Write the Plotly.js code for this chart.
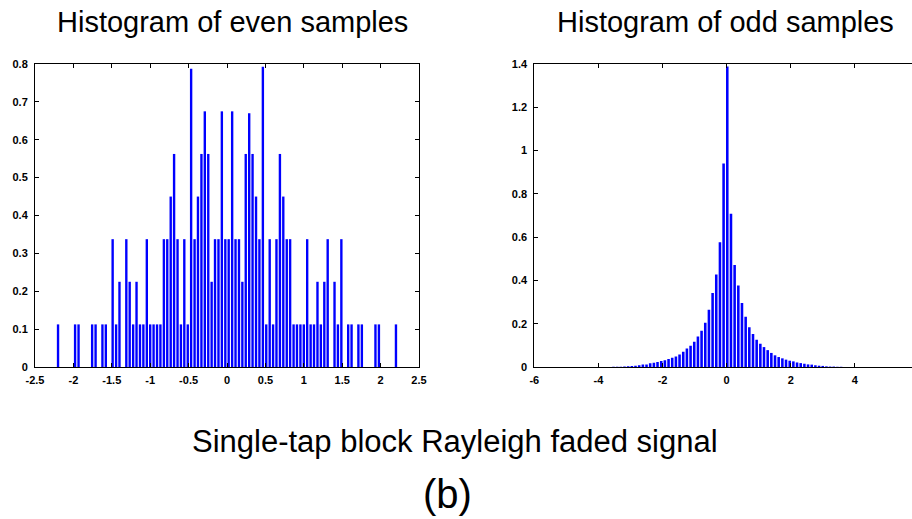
<!DOCTYPE html>
<html>
<head>
<meta charset="utf-8">
<script src="https://cdn.plot.ly/plotly-3.0.1.min.js"></script>
<style>
html, body { margin: 0; padding: 0; background: #fff; overflow: hidden; }
#wrap { width: 912px; height: 519px; overflow: hidden; position: relative; }
#plot { width: 920px; height: 519px; }
</style>
</head>
<body>
<div id="wrap"><div id="plot"></div></div>
<script>
// ---- Even samples histogram (bin centres and heights) ----
const evenX = [-2.200, -1.978, -1.933, -1.756, -1.711, -1.622, -1.578, -1.489, -1.444, -1.400,
  -1.311, -1.267, -1.222, -1.178, -1.133, -1.089, -1.044, -1.000, -0.956, -0.911,
  -0.867, -0.822, -0.778, -0.733, -0.689, -0.644, -0.600, -0.556, -0.511, -0.467,
  -0.422, -0.378, -0.333, -0.289, -0.244, -0.200, -0.156, -0.111, -0.067, -0.022,
  0.022, 0.067, 0.111, 0.156, 0.200, 0.244, 0.289, 0.333, 0.378, 0.422,
  0.467, 0.511, 0.556, 0.600, 0.644, 0.689, 0.733, 0.778, 0.822, 0.867,
  0.911, 0.956, 1.000, 1.044, 1.089, 1.133, 1.178, 1.222, 1.267, 1.311,
  1.400, 1.444, 1.489, 1.578, 1.622, 1.711, 1.756, 1.933, 1.978, 2.200];
const evenY = [0.1125, 0.1125, 0.1125, 0.1125, 0.1125, 0.1125, 0.1125, 0.3375, 0.1125, 0.225,
  0.3375, 0.225, 0.1125, 0.225, 0.1125, 0.1125, 0.3375, 0.1125, 0.1125, 0.1125,
  0.1125, 0.3375, 0.3375, 0.45, 0.5625, 0.3375, 0.1125, 0.3375, 0.1125, 0.7875,
  0.3375, 0.45, 0.5625, 0.675, 0.5625, 0.225, 0.3375, 0.3375, 0.675, 0.3375,
  0.3375, 0.675, 0.3375, 0.3375, 0.225, 0.5625, 0.67, 0.5625, 0.45, 0.3375,
  0.793, 0.1125, 0.3375, 0.1125, 0.3375, 0.5625, 0.45, 0.3375, 0.3375, 0.1125,
  0.1125, 0.1125, 0.1125, 0.3375, 0.1125, 0.1125, 0.225, 0.1125, 0.225, 0.3375,
  0.225, 0.1125, 0.3375, 0.1125, 0.1125, 0.1125, 0.1125, 0.1125, 0.1125, 0.1125];

// ---- Odd samples histogram (bin centres and heights) ----
const oddX = [-3.530, -3.415, -3.301, -3.186, -3.072, -2.957, -2.843, -2.728, -2.614, -2.499,
  -2.385, -2.270, -2.156, -2.041, -1.927, -1.812, -1.698, -1.583, -1.469, -1.354,
  -1.240, -1.125, -1.011, -0.896, -0.782, -0.667, -0.553, -0.438, -0.324, -0.209,
  -0.095, 0.020, 0.135, 0.249, 0.364, 0.478, 0.593, 0.707, 0.822, 0.936,
  1.051, 1.165, 1.280, 1.394, 1.509, 1.623, 1.738, 1.852, 1.967, 2.081,
  2.196, 2.310, 2.425, 2.539, 2.654, 2.768, 2.883, 2.997, 3.112, 3.226,
  3.341, 3.455, 3.570];
const oddY = [0.001, 0.001, 0.0015, 0.0025, 0.003, 0.005, 0.006, 0.008, 0.011, 0.012,
  0.017, 0.020, 0.023, 0.028, 0.031, 0.037, 0.043, 0.049, 0.058, 0.071,
  0.085, 0.098, 0.117, 0.141, 0.168, 0.205, 0.265, 0.342, 0.427, 0.576,
  0.94, 1.389, 0.708, 0.471, 0.376, 0.296, 0.232, 0.184, 0.152, 0.126,
  0.107, 0.092, 0.078, 0.065, 0.054, 0.046, 0.040, 0.034, 0.029, 0.026,
  0.021, 0.018, 0.015, 0.012, 0.011, 0.008, 0.006, 0.005, 0.003, 0.002,
  0.002, 0.001, 0.001];

// ---- Tick labels ----
const evenXTicks = [-2.5, -2, -1.5, -1, -0.5, 0, 0.5, 1, 1.5, 2, 2.5];
const evenXLabels = ["-2.5", "-2", "-1.5", "-1", "-0.5", "0", "0.5", "1", "1.5", "2", "2.5"];
const evenYTicks = [0, 0.1, 0.2, 0.3, 0.4, 0.5, 0.6, 0.7, 0.8];
const evenYLabels = ["0", "0.1", "0.2", "0.3", "0.4", "0.5", "0.6", "0.7", "0.8"];
const oddXTicks = [-6, -4, -2, 0, 2, 4, 6];
const oddXLabels = ["-6", "-4", "-2", "0", "2", "4", "6"];
const oddYTicks = [0, 0.2, 0.4, 0.6, 0.8, 1, 1.2, 1.4];
const oddYLabels = ["0", "0.2", "0.4", "0.6", "0.8", "1", "1.2", "1.4"];

// ---- Texts ----
const titleEven = "Histogram of even samples";
const titleOdd = "Histogram of odd samples";
const caption = "Single-tap block Rayleigh faded signal";
const label = "(b)";

const W = 920, H = 519, ML = 35, MR = 1, MT = 64, MB = 152;
const PW = W - ML - MR, PH = H - MT - MB;
const px = x => (x - ML) / PW;
const py = y => (H - MB - y) / PH;

const tickFont = { family: "Liberation Sans, Arial, sans-serif", size: 11, color: "#000", weight: "bold" };
const axisBase = {
  showline: true, mirror: "ticks", linecolor: "#000", linewidth: 1,
  ticks: "inside", ticklen: 4, tickcolor: "#000", tickwidth: 1,
  showgrid: false, zeroline: false, tickmode: "array",
  tickfont: tickFont, fixedrange: true
};

const traces = [
  { type: "bar", x: evenX, y: evenY, width: 0.031, xaxis: "x", yaxis: "y",
    marker: { color: "#0000ff", line: { width: 0 } }, hoverinfo: "x+y" },
  { type: "bar", x: oddX, y: oddY, width: 0.08, xaxis: "x2", yaxis: "y2",
    marker: { color: "#0000ff", line: { width: 0 } }, hoverinfo: "x+y" }
];

const titleFont = { family: "Liberation Sans, Arial, sans-serif", size: 29, color: "#000" };

const layout = {
  width: W, height: H,
  margin: { l: ML, r: MR, t: MT, b: MB, pad: 0 },
  paper_bgcolor: "#fff", plot_bgcolor: "#fff",
  showlegend: false,
  xaxis: Object.assign({}, axisBase, {
    domain: [0, px(419)], range: [-2.5, 2.5], anchor: "y",
    tickvals: evenXTicks, ticktext: evenXLabels, ticklabelstandoff: 3
  }),
  yaxis: Object.assign({}, axisBase, {
    domain: [0, 1], range: [0, 0.8], anchor: "x",
    tickvals: evenYTicks, ticktext: evenYLabels, ticklabelstandoff: 4
  }),
  xaxis2: Object.assign({}, axisBase, {
    domain: [px(534.3), 1], range: [-6, 6], anchor: "y2",
    tickvals: oddXTicks, ticktext: oddXLabels, ticklabelstandoff: 3
  }),
  yaxis2: Object.assign({}, axisBase, {
    domain: [0, 1], range: [0, 1.4], anchor: "x2",
    tickvals: oddYTicks, ticktext: oddYLabels, ticklabelstandoff: 4
  }),
  annotations: [
    { text: titleEven, xref: "paper", yref: "paper", x: px(232), y: py(22),
      xanchor: "center", yanchor: "middle", showarrow: false, font: titleFont },
    { text: titleOdd, xref: "paper", yref: "paper", x: px(725), y: py(22),
      xanchor: "center", yanchor: "middle", showarrow: false, font: titleFont },
    { text: caption, xref: "paper", yref: "paper", x: px(455), y: py(441),
      xanchor: "center", yanchor: "middle", showarrow: false,
      font: { family: "Liberation Sans, Arial, sans-serif", size: 31, color: "#000" } },
    { text: label, xref: "paper", yref: "paper", x: px(447), y: py(494),
      xanchor: "center", yanchor: "middle", showarrow: false,
      font: { family: "Liberation Sans, Arial, sans-serif", size: 40, color: "#000" } }
  ]
};

Plotly.newPlot("plot", traces, layout, { staticPlot: true, displayModeBar: false });
</script>
</body>
</html>
